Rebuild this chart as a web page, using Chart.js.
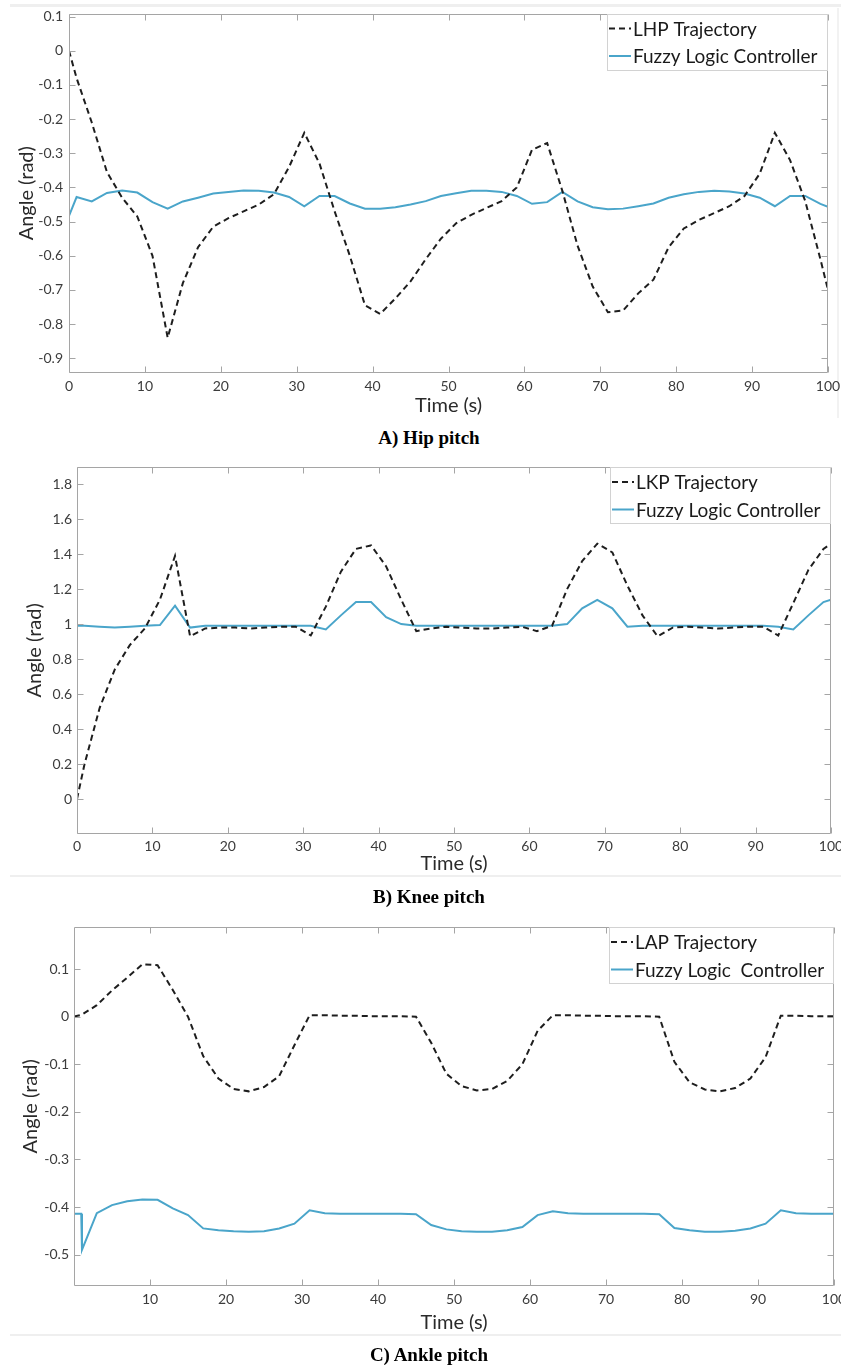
<!DOCTYPE html>
<html><head><meta charset="utf-8">
<script src="https://cdn.jsdelivr.net/npm/chart.js@4.4.1/dist/chart.umd.min.js"></script>
<style>
html,body{margin:0;padding:0;background:#fff;}
body{width:841px;height:1368px;position:relative;overflow:hidden;}
canvas{position:absolute;left:0;}
.cap{position:absolute;left:0;width:858px;height:22px;line-height:22px;text-align:center;font:bold 19px "Liberation Serif","Times New Roman",serif;color:#000;}
.sep{position:absolute;left:10px;right:0;height:3px;background:#efefef;}
.vsep{position:absolute;top:8px;left:837px;width:2px;height:410px;background:#f2f2f2;}
</style></head><body>
<div class="sep" style="top:4px"></div>
<div class="vsep"></div>
<canvas id="hip" width="841" height="418" style="top:0"></canvas>
<div class="cap" style="top:427px">A) Hip pitch</div>
<canvas id="knee" width="841" height="425" style="top:455px"></canvas>
<div class="sep" style="top:875px;height:2px"></div>
<div class="cap" style="top:886px">B) Knee pitch</div>
<canvas id="ankle" width="841" height="430" style="top:910px"></canvas>
<div class="sep" style="top:1334px;height:2px"></div>
<div class="cap" style="top:1344px">C) Ankle pitch</div>
<script>
// ---------- data ----------
const TIME = [0,1,3,5,7,9,11,13,15,17,19,21,23,25,27,29,31,33,35,37,39,41,43,45,47,49,51,53,55,57,59,61,63,65,67,69,71,73,75,77,79,81,83,85,87,89,91,93,95,97,99,100];

const HIP_TRAJ = [0,-0.08,-0.21,-0.355,-0.43,-0.485,-0.60,-0.84,-0.68,-0.575,-0.515,-0.49,-0.47,-0.45,-0.42,-0.34,-0.24,-0.33,-0.47,-0.60,-0.745,-0.77,-0.725,-0.675,-0.61,-0.55,-0.505,-0.48,-0.46,-0.44,-0.40,-0.29,-0.27,-0.41,-0.57,-0.69,-0.765,-0.76,-0.71,-0.67,-0.575,-0.52,-0.495,-0.475,-0.455,-0.425,-0.36,-0.24,-0.32,-0.44,-0.61,-0.70];
const HIP_FLC = [-0.483,-0.428,-0.441,-0.416,-0.409,-0.415,-0.443,-0.462,-0.441,-0.43,-0.418,-0.413,-0.409,-0.41,-0.415,-0.428,-0.455,-0.425,-0.425,-0.447,-0.462,-0.462,-0.458,-0.45,-0.44,-0.425,-0.417,-0.41,-0.41,-0.413,-0.425,-0.448,-0.443,-0.413,-0.441,-0.458,-0.464,-0.462,-0.455,-0.447,-0.43,-0.42,-0.413,-0.41,-0.412,-0.418,-0.43,-0.455,-0.425,-0.425,-0.448,-0.457];

const KNEE_TRAJ = [0,0.2,0.52,0.74,0.88,0.975,1.14,1.39,0.93,0.975,0.98,0.98,0.975,0.98,0.985,0.985,0.935,1.1,1.3,1.43,1.45,1.33,1.14,0.96,0.975,0.985,0.98,0.975,0.975,0.98,0.985,0.96,0.99,1.2,1.36,1.46,1.41,1.22,1.05,0.93,0.98,0.985,0.98,0.975,0.98,0.985,0.985,0.935,1.12,1.31,1.43,1.46];
const KNEE_FLC = [0.99,0.99,0.985,0.98,0.985,0.99,0.995,1.106,0.98,0.99,0.99,0.99,0.99,0.99,0.99,0.99,0.99,0.97,1.05,1.126,1.126,1.04,1.0,0.99,0.99,0.99,0.99,0.99,0.99,0.99,0.99,0.99,0.99,1.0,1.09,1.139,1.09,0.985,0.99,0.99,0.99,0.99,0.99,0.99,0.99,0.99,0.99,0.985,0.97,1.05,1.126,1.139];

const ANKLE_TRAJ = [0,0.004,0.024,0.055,0.082,0.11,0.108,0.056,0.0,-0.083,-0.13,-0.152,-0.157,-0.148,-0.125,-0.06,0.003,0.003,0.002,0.002,0.001,0.001,0.001,0,-0.055,-0.12,-0.146,-0.155,-0.152,-0.135,-0.1,-0.03,0.003,0.003,0.002,0.002,0.001,0.001,0.001,0,-0.095,-0.138,-0.153,-0.157,-0.15,-0.13,-0.085,0.002,0.002,0.001,0.001,0.001];
const ANKLE_FLC_TIME = [0,0.95,1.05,3,5,7,9,11,13,15,17,19,21,23,25,27,29,31,33,35,37,39,41,43,45,47,49,51,53,55,57,59,61,63,65,67,69,71,73,75,77,79,81,83,85,87,89,91,93,95,97,99,100];
const ANKLE_FLC = [-0.414,-0.414,-0.49,-0.413,-0.396,-0.388,-0.384,-0.385,-0.403,-0.417,-0.445,-0.449,-0.451,-0.452,-0.451,-0.445,-0.435,-0.407,-0.413,-0.414,-0.414,-0.414,-0.414,-0.414,-0.415,-0.438,-0.447,-0.451,-0.452,-0.452,-0.449,-0.442,-0.417,-0.409,-0.413,-0.414,-0.414,-0.414,-0.414,-0.414,-0.415,-0.444,-0.449,-0.452,-0.452,-0.45,-0.445,-0.435,-0.407,-0.413,-0.414,-0.414,-0.414];

const X_TICKS_AB = [0,10,20,30,40,50,60,70,80,90,100];
const X_LABELS_AB = ['0','10','20','30','40','50','60','70','80','90','100'];
const X_TICKS_C = [10,20,30,40,50,60,70,80,90,100];
const X_LABELS_C = ['10','20','30','40','50','60','70','80','90','100'];
const Y_TICKS_HIP = [0.1,0,-0.1,-0.2,-0.3,-0.4,-0.5,-0.6,-0.7,-0.8,-0.9];
const Y_LABELS_HIP = ['0.1','0','-0.1','-0.2','-0.3','-0.4','-0.5','-0.6','-0.7','-0.8','-0.9'];
const Y_TICKS_KNEE = [0,0.2,0.4,0.6,0.8,1,1.2,1.4,1.6,1.8];
const Y_LABELS_KNEE = ['0','0.2','0.4','0.6','0.8','1','1.2','1.4','1.6','1.8'];
const Y_TICKS_ANKLE = [0.1,0,-0.1,-0.2,-0.3,-0.4,-0.5];
const Y_LABELS_ANKLE = ['0.1','0','-0.1','-0.2','-0.3','-0.4','-0.5'];

const SERIES_LABELS = {
  hip: ['LHP Trajectory','Fuzzy Logic Controller'],
  knee: ['LKP Trajectory','Fuzzy Logic Controller'],
  ankle: ['LAP Trajectory','Fuzzy Logic  Controller']
};

// ---------- helpers ----------
const pts = (t, v) => t.map((x, i) => ({x: x, y: v[i]}));
const FONT = 'Lato, "Open Sans", sans-serif';
const BLUE = '#4aa5ca';
const DARK = '#1e1e1e';

const framePlugin = {
  id: 'frame',
  afterDatasetsDraw(chart, args, o) {
    const {ctx, chartArea: a} = chart;
    const xs = chart.scales.x, ys = chart.scales.y;
    ctx.save();
    ctx.strokeStyle = o.color;
    ctx.lineWidth = 1;
    ctx.setLineDash([]);
    const L = Math.round(a.left) + 0.5, R = Math.round(a.right) - 0.5;
    const T = Math.round(a.top) + 0.5, B = Math.round(a.bottom) - 0.5;
    ctx.beginPath();
    ctx.rect(L, T, R - L, B - T);
    const len = o.tickLen;
    xs.ticks.forEach(t => {
      const p = Math.round(xs.getPixelForValue(t.value)) + 0.5;
      ctx.moveTo(p, B); ctx.lineTo(p, B - len);
      ctx.moveTo(p, T); ctx.lineTo(p, T + len);
    });
    ys.ticks.forEach(t => {
      const p = Math.round(ys.getPixelForValue(t.value)) + 0.5;
      ctx.moveTo(L, p); ctx.lineTo(L + len, p);
      ctx.moveTo(R, p); ctx.lineTo(R - len, p);
    });
    ctx.stroke();
    ctx.restore();
  }
};

const boxLegend = {
  id: 'boxLegend',
  afterDraw(chart, args, o) {
    const {ctx, chartArea: a} = chart;
    const x0 = Math.round(a.right) - o.width, y0 = Math.round(a.top);
    ctx.save();
    ctx.fillStyle = '#fff';
    ctx.fillRect(x0, y0, o.width, o.height);
    ctx.strokeStyle = o.borderColor;
    ctx.lineWidth = 1;
    ctx.strokeRect(x0 + 0.5, y0 + 0.5, o.width - 1, o.height - 1);
    chart.data.datasets.forEach((ds, i) => {
      const cy = y0 + o.rowTop + i * o.rowGap;
      ctx.strokeStyle = ds.borderColor;
      ctx.lineWidth = ds.borderWidth;
      ctx.setLineDash(ds.borderDash || []);
      ctx.beginPath();
      ctx.moveTo(x0 + o.lineStart, cy);
      ctx.lineTo(x0 + o.lineStart + o.lineLen, cy);
      ctx.stroke();
      ctx.setLineDash([]);
      ctx.fillStyle = o.color;
      ctx.font = o.font;
      ctx.textBaseline = 'middle';
      ctx.textAlign = 'left';
      ctx.fillText(ds.label, x0 + o.textStart, cy + 1);
    });
    ctx.restore();
  }
};

function makeChart(id, g) {
  const ctx = document.getElementById(id);
  return new Chart(ctx, {
    type: 'line',
    data: {
      datasets: [
        {label: g.labels[0], data: g.traj, borderColor: DARK, borderWidth: 2, borderDash: [6, 4], pointRadius: 0, tension: 0, fill: false},
        {label: g.labels[1], data: g.flc, borderColor: BLUE, borderWidth: 2, pointRadius: 0, tension: 0, fill: false}
      ]
    },
    options: {
      responsive: false,
      animation: false,
      devicePixelRatio: 1,
      layout: {padding: {top: g.padTop, right: g.padRight, left: 0, bottom: 0}},
      plugins: {
        legend: {display: false},
        tooltip: {enabled: false},
        frame: {color: '#a5a5a5', tickLen: 6},
        boxLegend: {width: g.legW, height: 57, rowTop: g.rowTop, rowGap: 27.5, lineStart: 2, lineLen: 22, textStart: 26,
                    borderColor: '#d2d2d2', color: '#1a1a1a', font: '19px ' + FONT}
      },
      scales: {
        x: {
          type: 'linear', min: 0, max: 100,
          afterBuildTicks: s => { s.ticks = g.xTicks.map(v => ({value: v})); },
          afterFit: s => { s.height = g.xH; s.paddingLeft = 0; s.paddingRight = 0; },
          grid: {display: false, drawTicks: false},
          border: {display: false},
          ticks: {autoSkip: false, maxRotation: 0, padding: g.xTickPad, color: '#3c3c3c',
                  font: {family: FONT, size: 14}, callback: (v, i) => g.xLabels[i]},
          title: {display: true, text: 'Time (s)', color: '#2a2a2a', font: {family: FONT, size: 20},
                  padding: {top: 0, bottom: g.xTitlePad}}
        },
        y: {
          type: 'linear', min: g.yMin, max: g.yMax,
          afterBuildTicks: s => { s.ticks = g.yTicks.map(v => ({value: v})); },
          afterFit: s => { s.width = g.yW; s.paddingTop = 0; s.paddingBottom = 0; },
          grid: {display: false, drawTicks: false},
          border: {display: false},
          ticks: {autoSkip: false, padding: g.yTickPad, color: '#3c3c3c',
                  font: {family: FONT, size: 14}, callback: (v, i) => g.yLabels[i]},
          title: {display: true, text: 'Angle (rad)', color: '#2a2a2a', font: {family: FONT, size: 20},
                  padding: {top: g.yTitlePad, bottom: 0}}
        }
      }
    },
    plugins: [framePlugin, boxLegend]
  });
}

makeChart('hip', {
  labels: SERIES_LABELS.hip, traj: pts(TIME, HIP_TRAJ), flc: pts(TIME, HIP_FLC),
  xTicks: X_TICKS_AB, xLabels: X_LABELS_AB, yTicks: Y_TICKS_HIP, yLabels: Y_LABELS_HIP,
  yMin: -0.943, yMax: 0.109, padTop: 13.5, padRight: 13, yW: 69, xH: 45,
  xTickPad: 5, xTitlePad: 0, yTickPad: 6, yTitlePad: 15, legW: 221, rowTop: 14.5
});
makeChart('knee', {
  labels: SERIES_LABELS.knee, traj: pts(TIME, KNEE_TRAJ), flc: pts(TIME, KNEE_FLC),
  xTicks: X_TICKS_AB, xLabels: X_LABELS_AB, yTicks: Y_TICKS_KNEE, yLabels: Y_LABELS_KNEE,
  yMin: -0.2, yMax: 1.9, padTop: 11.7, padRight: 10, yW: 77, xH: 46,
  xTickPad: 4, xTitlePad: 4, yTickPad: 5, yTitlePad: 23, legW: 221, rowTop: 15
});
makeChart('ankle', {
  labels: SERIES_LABELS.ankle, traj: pts(TIME, ANKLE_TRAJ), flc: pts(ANKLE_FLC_TIME, ANKLE_FLC),
  xTicks: X_TICKS_C, xLabels: X_LABELS_C, yTicks: Y_TICKS_ANKLE, yLabels: Y_LABELS_ANKLE,
  yMin: -0.566, yMax: 0.189, padTop: 16.7, padRight: 7, yW: 74, xH: 54,
  xTickPad: 5, xTitlePad: 5, yTickPad: 5, yTitlePad: 19, legW: 225, rowTop: 15
});
</script>
</body></html>
